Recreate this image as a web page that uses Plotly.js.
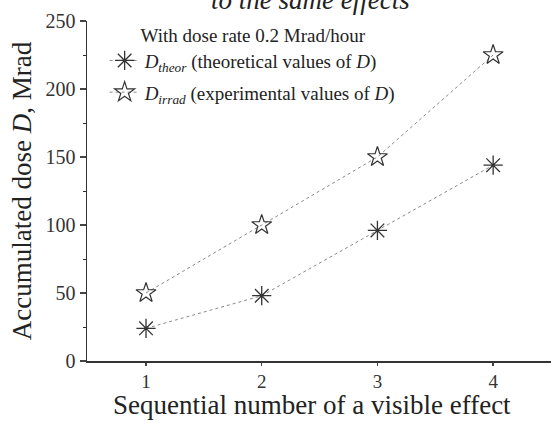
<!DOCTYPE html>
<html><head><meta charset="utf-8">
<script src="https://cdn.plot.ly/plotly-3.0.1.min.js"></script>
<style>html,body{margin:0;padding:0;background:#fff}</style>
</head><body><div id="chart" style="width:551px;height:421px"></div>
<script>
const effectNumbers = [1, 2, 3, 4];
const dTheor = [24, 48, 96, 144];
const dIrrad = [50, 100, 150, 225];
const xTicks = [1, 2, 3, 4];
const yTicks = [0, 50, 100, 150, 200, 250];

const font = 'Liberation Serif, Times New Roman, serif';
const traces = [
  {x: effectNumbers, y: dTheor, type: 'scatter', mode: 'lines+markers', legendgroup: 'a',
   name: '<i>D</i><sub><i>theor</i></sub> (theoretical values of <i>D</i>)',
   line: {color: '#8a8a8a', width: 1, dash: 'dot'},
   marker: {symbol: 'asterisk-open', size: 16, color: '#333', line: {color: '#333', width: 1.3}}},
  {x: effectNumbers, y: dIrrad, type: 'scatter', mode: 'lines+markers', legendgroup: 'b',
   name: '<i>D</i><sub><i>irrad</i></sub> (experimental values of <i>D</i>)',
   line: {color: '#8a8a8a', width: 1, dash: 'dot'},
   marker: {symbol: 'star-open', size: 15, color: '#333', line: {color: '#333', width: 1.2}}}
];
const layout = {
  width: 551, height: 421,
  margin: {l: 87, r: 0, t: 21, b: 60},
  paper_bgcolor: '#fff', plot_bgcolor: '#fff',
  font: {family: font, color: '#222', size: 20},
  annotations: [
    {text: '<i>to the same effects</i>', xref: 'paper', yref: 'paper', x: (310 - 87) / 464, y: 1,
     xanchor: 'center', yanchor: 'middle', yshift: 21, showarrow: false,
     font: {family: font, size: 27, color: '#222'}},
    {text: 'Sequential number of a visible effect', xref: 'paper', yref: 'paper', x: (312 - 87) / 464, y: 0,
     xanchor: 'center', yanchor: 'bottom', yshift: -61, showarrow: false,
     font: {family: font, size: 27, color: '#222'}}
  ],
  xaxis: {range: [0.49, 4.5], tickvals: xTicks, ticks: 'outside', ticklen: 3, tickwidth: 1.3,
    showline: true, linecolor: '#333', linewidth: 1.5, showgrid: false, zeroline: false,
    tickfont: {family: font, size: 19, color: '#333'}},
  yaxis: {range: [0, 250], tickvals: yTicks, ticks: 'outside', ticklen: 6, tickwidth: 1.3,
    showline: true, linecolor: '#333', linewidth: 1.5, showgrid: false, zeroline: false,
    minor: {dtick: 25, ticks: 'outside', ticklen: 3, tickwidth: 1, tickcolor: '#333'},
    tickfont: {family: font, size: 20, color: '#333'},
    title: {text: 'Accumulated dose <i>D</i>, Mrad', font: {family: font, size: 27, color: '#222'}, standoff: 6}},
  showlegend: true,
  legend: {x: 0.038, y: 1.012, xanchor: 'left', yanchor: 'top', bgcolor: 'rgba(0,0,0,0)',
    font: {family: font, size: 19, color: '#222'}, itemwidth: 30, tracegroupgap: 4,
    title: {text: 'With dose rate 0.2 Mrad/hour', side: 'top center', font: {family: font, size: 19, color: '#222'}}}
};
Plotly.newPlot('chart', traces, layout, {displayModeBar: false, staticPlot: true});
</script></body></html>
